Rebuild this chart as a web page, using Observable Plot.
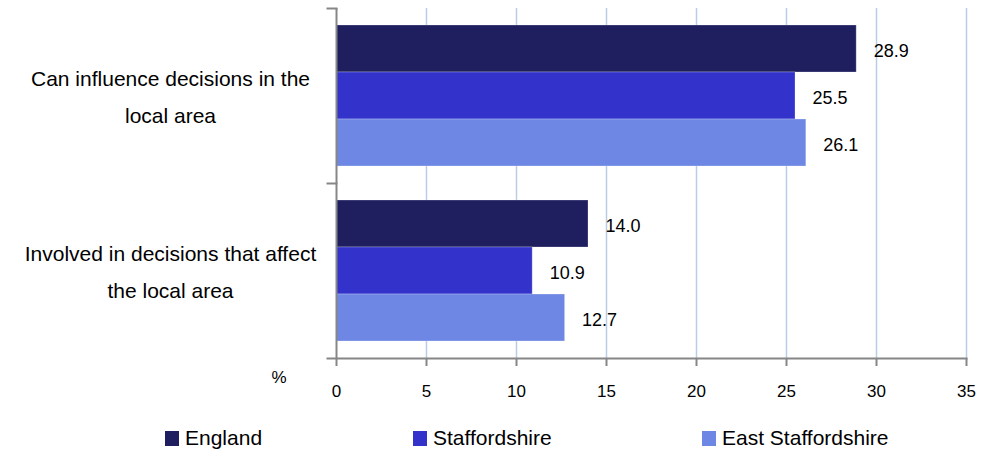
<!DOCTYPE html>
<html>
<head>
<meta charset="utf-8">
<script src="https://cdn.jsdelivr.net/npm/d3@7"></script>
<script src="https://cdn.jsdelivr.net/npm/@observablehq/plot@0.6"></script>
<style>
  html, body { margin: 0; padding: 0; background: #ffffff; }
  body { font-family: "Liberation Sans", Arial, sans-serif; width: 991px; }
  #legend { position: relative; width: 991px; height: 30px; overflow: hidden; }
  .item { position: absolute; top: 0; height: 30px; }
  .sw { position: absolute; top: 11px; width: 14px; height: 15px; }
  .lb { position: absolute; top: 7px; font-size: 21px; line-height: 21px; color: #000; white-space: nowrap; }
</style>
</head>
<body>
<div id="chart"></div>
<div id="legend"></div>
<script>
// ---- data ----
const questions = [
  "Can influence decisions in the local area",
  "Involved in decisions that affect the local area"
];
const questionLabels = [
  "Can influence decisions in the\nlocal area",
  "Involved in decisions that affect\nthe local area"
];
const series = ["England", "Staffordshire", "East Staffordshire"];
const england = [28.9, 14.0];
const staffordshire = [25.5, 10.9];
const eastStaffordshire = [26.1, 12.7];
const seriesColors = ["#1F1F5F", "#3333CC", "#6E87E4"];
const xTicks = [0, 5, 10, 15, 20, 25, 30, 35];
const axisLabel = "%";

// ---- table built from the arrays ----
const valuesBySeries = [england, staffordshire, eastStaffordshire];
const rows = [];
questions.forEach((q, qi) => {
  series.forEach((s, si) => {
    rows.push({question: q, series: s, value: valuesBySeries[si][qi]});
  });
});
const labelRows = questions.map((q, i) => ({question: q, label: questionLabels[i]}));

const axisGray = "#868686";

const chart = Plot.plot({
  width: 991,
  height: 420,
  marginLeft: 336,
  marginRight: 25,
  marginTop: 8,
  marginBottom: 62,
  style: {fontFamily: "'Liberation Sans', Arial, sans-serif", background: "#ffffff", color: "#000"},
  x: {domain: [0, 35], axis: null},
  y: {domain: series, paddingInner: 0, paddingOuter: 0.35, axis: null},
  fy: {domain: questions, padding: 0, axis: null},
  color: {domain: series, range: seriesColors},
  marks: [
    Plot.ruleX(xTicks.slice(1), {stroke: "#B9CDE5", strokeWidth: 1.5}),
    Plot.barX(rows, {x: "value", y: "series", fy: "question", fill: "series",
      stroke: "#ffffff", strokeOpacity: 0.25, strokeWidth: 1}),
    Plot.text(rows, {x: "value", y: "series", fy: "question",
      text: d => d.value.toFixed(1), dx: 17, dy: 2, textAnchor: "start",
      fontSize: 18, fill: "#000"}),
    Plot.ruleX([0], {stroke: axisGray, strokeWidth: 2}),
    Plot.frame({anchor: "top", stroke: axisGray, strokeWidth: 2, insetLeft: -9, insetRight: 630}),
    Plot.frame({anchor: "bottom", facetAnchor: "bottom", stroke: axisGray, strokeWidth: 2, insetLeft: -9}),
    Plot.axisX({ticks: xTicks, tickSize: 8, tickPadding: 18, stroke: axisGray, strokeWidth: 2,
      fill: "#000", fontSize: 17, label: null, tickFormat: d => String(d)}),
    Plot.text([axisLabel], {frameAnchor: "bottom-left", facetAnchor: "bottom", dx: -65, dy: 24,
      text: d => d, fontSize: 17, fill: "#000"}),
    Plot.text(labelRows, {fy: "question", text: "label", frameAnchor: "left", dx: -166, dy: -3,
      textAnchor: "middle", lineHeight: 1.76, fontSize: 21, fill: "#000"})
  ]
});
document.getElementById("chart").appendChild(chart);

// ---- legend (HTML, below the SVG) ----
const legendLeft = [165, 413, 702];
const legend = document.getElementById("legend");
series.forEach((s, i) => {
  const item = document.createElement("div");
  item.className = "item";
  item.style.left = legendLeft[i] + "px";
  const sw = document.createElement("div");
  sw.className = "sw";
  sw.style.left = "0px";
  sw.style.background = seriesColors[i];
  const lb = document.createElement("div");
  lb.className = "lb";
  lb.style.left = "20px";
  lb.textContent = s;
  item.appendChild(sw);
  item.appendChild(lb);
  legend.appendChild(item);
});
</script>
</body>
</html>
